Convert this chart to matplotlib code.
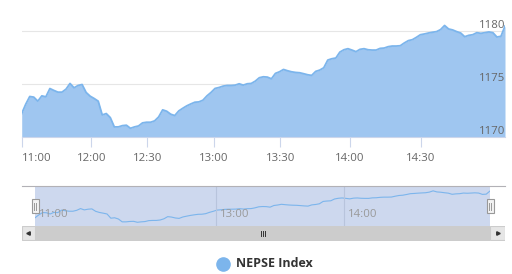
import numpy as np
import matplotlib
matplotlib.use("Agg")
import matplotlib.pyplot as plt
from matplotlib.patches import Rectangle

plt.rcParams['font.family'] = ['Open Sans', 'DejaVu Sans']

# NEPSE index, equally spaced ordinal points (Highcharts ordinal axis)
values = [1172.24, 1173.12, 1173.85, 1173.79, 1173.41, 1173.91, 1173.82, 1174.6, 1174.42, 1174.26,
          1174.26, 1174.54, 1175.08, 1174.67, 1174.89, 1174.98, 1174.23, 1173.88, 1173.66, 1173.41,
          1172.11, 1172.24, 1171.86, 1170.98, 1170.98, 1171.10, 1171.14, 1170.85, 1170.98, 1171.07,
          1171.36, 1171.42, 1171.42, 1171.55, 1171.92, 1172.59, 1172.46, 1172.18, 1172.05, 1172.49,
          1172.74, 1172.97, 1173.15, 1173.31, 1173.34, 1173.50, 1173.91, 1174.23, 1174.61, 1174.70,
          1174.83, 1174.89, 1174.89, 1174.92, 1175.05, 1174.92, 1175.05, 1175.08, 1175.30, 1175.62,
          1175.71, 1175.68, 1175.52, 1176.03, 1176.18, 1176.40, 1176.28, 1176.18, 1176.12, 1176.09,
          1176.00, 1175.90, 1175.84, 1176.22, 1176.34, 1176.56, 1177.29, 1177.41, 1177.48, 1178.04,
          1178.26, 1178.36, 1178.23, 1178.08, 1178.30, 1178.36, 1178.26, 1178.23, 1178.23, 1178.39,
          1178.42, 1178.55, 1178.61, 1178.61, 1178.64, 1178.90, 1179.12, 1179.21, 1179.43, 1179.68,
          1179.75, 1179.84, 1179.91, 1179.97, 1180.16, 1180.55, 1180.22, 1180.13, 1179.97, 1179.84,
          1179.49, 1179.62, 1179.68, 1179.87, 1179.81, 1179.87, 1179.94, 1179.87, 1179.46, 1179.53,
          1180.50]

tick_labels = ["11:00", "12:00", "12:30", "13:00", "13:30", "14:00", "14:30"]
tick_idx = [0, 17.3, 31.2, 47.7, 64.2, 81.4, 99.1]
nav_labels = ["11:00", "13:00", "14:00"]
nav_idx = [0, 47.7, 81.4]
y_ticks = [1170, 1175, 1180]
series_name = "NEPSE Index"

line_col = "#7cb5ec"
fill_col = "#9fc6f0"
W, H = 512, 274
x = np.arange(len(values))


def fax(l, t, r, b):
    # pixel box -> figure fraction rect
    return [l / W, 1 - b / H, (r - l) / W, (b - t) / H]


fig = plt.figure(figsize=(W / 100, H / 100), dpi=100)

# main chart
ax = fig.add_axes(fax(21.7, 17, 505, 137.3))
ax.fill_between(x, values, 1160, color=fill_col, lw=0)
ax.plot(x, values, color=line_col, lw=1.3)
ax.set_xlim(0, len(values) - 1)
ax.set_ylim(1170, 1181.35)
for yt in y_ticks[1:]:
    ax.axhline(yt, color="#e6e6e6", lw=0.8, zorder=0)
for s in ["top", "left", "right"]:
    ax.spines[s].set_visible(False)
ax.spines["bottom"].set_color("#ccd6eb")
ax.spines["bottom"].set_linewidth(0.8)
ax.set_yticks([])
ax.set_xticks(tick_idx)
ax.set_xticklabels([])
ax.tick_params(axis="x", length=7, color="#ccd6eb", width=0.8)
for i, lab in zip(tick_idx, tick_labels):
    ha = "left" if i == 0 else "center"
    ax.annotate(lab, (i, 1170), xytext=(0, -15), textcoords="offset points",
                ha=ha, va="center", fontsize=8.2, color="#666666")
for yt in y_ticks:
    ax.annotate(str(yt), (1, yt), xycoords=("axes fraction", "data"),
                xytext=(0, 4.5), textcoords="offset points",
                ha="right", va="center", fontsize=8.2, color="#666666")

# navigator outline line
fig.add_artist(plt.Line2D([22 / W, 505 / W], [1 - 186 / H] * 2, color="#b2b1b6", lw=0.8))

# navigator
nav = fig.add_axes(fax(35, 186, 490, 226))
nav.set_facecolor("#cdd8ee")
nav.plot(x, values, color=line_col, lw=0.8)
nav.set_xlim(0, len(values) - 1)
nav.set_ylim(1169.7, 1182.05)
for s in nav.spines.values():
    s.set_visible(False)
nav.set_xticks([])
nav.set_yticks([])
for i, lab in zip(nav_idx, nav_labels):
    if i > 0:
        nav.axvline(i, color="#b8c4dc", lw=0.8)
    nav.annotate(lab, (i, 0), xycoords=("data", "axes fraction"), xytext=(3, 8),
                 textcoords="offset points", ha="left", va="center",
                 fontsize=8.2, color="#999999")

# handles
for hx in [35, 490]:
    fig.add_artist(Rectangle(((hx - 3.5) / W, 1 - 213 / H), 7 / W, 14 / H,
                             transform=fig.transFigure, facecolor="#f2f2f2",
                             edgecolor="#999999", lw=0.8))
    for dx in [-1, 1]:
        fig.add_artist(plt.Line2D([(hx + dx) / W] * 2, [1 - 209.5 / H, 1 - 202.5 / H],
                                  color="#999999", lw=0.7))

# scrollbar
sb = fig.add_axes(fax(22, 226, 505, 240.5))
sb.set_xlim(22, 505)
sb.set_ylim(0, 1)
sb.axis("off")
sb.add_patch(Rectangle((22, 0), 483, 1, facecolor="#f2f2f2", edgecolor="none"))
sb.add_patch(Rectangle((35, 0), 455, 1, facecolor="#cccccc", edgecolor="none"))
for bx, bw in [(22, 13), (490, 15)]:
    sb.add_patch(Rectangle((bx, 0.02), bw, 0.96,
                           facecolor="#e6e6e6", edgecolor="#cccccc", lw=0.8))
sb.plot([28.5], [0.5], marker="<", color="#333333", ms=2.5)
sb.plot([497.5], [0.5], marker=">", color="#333333", ms=2.5)
for gx in [-2, 0, 2]:
    sb.plot([262.5 + gx] * 2, [0.32, 0.68], color="#333333", lw=0.7)

# legend
leg = fig.add_axes([0, 0, 1, 1], facecolor="none")
leg.set_xlim(0, W)
leg.set_ylim(H, 0)
leg.axis("off")
leg.plot([222.7], [263.5], "o", color=line_col, ms=9.5)
leg.text(236, 263.5, series_name, fontsize=9, fontweight="bold", color="#333333",
         va="center", ha="left")

fig.savefig("out.png", dpi=100)
